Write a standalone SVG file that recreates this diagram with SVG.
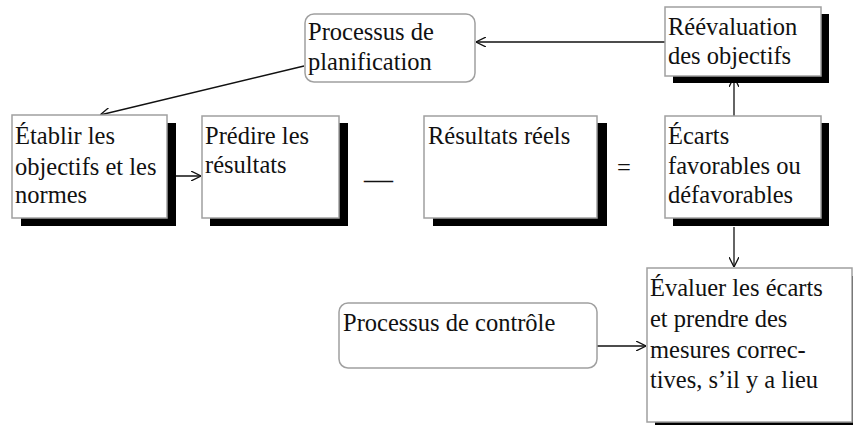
<svg xmlns="http://www.w3.org/2000/svg" width="853" height="425" viewBox="0 0 853 425">
<defs>
<style>
.box{fill:#fff;stroke:#a0a0a0;stroke-width:1.5}
.sh{fill:#000}
.c{stroke:#111;stroke-width:1.3;fill:none}
</style>
<marker id="ah" viewBox="0 0 10 10" refX="10" refY="5" markerWidth="10" markerHeight="10" markerUnits="userSpaceOnUse" orient="auto">
<path d="M0,0 L10,5 L0,10" fill="none" stroke="#111" stroke-width="1.3"/>
</marker>
</defs>
<rect width="853" height="425" fill="#fff"/>
<g id="connectors">
<line class="c" x1="665" y1="42" x2="476" y2="42" marker-end="url(#ah)"/>
<line class="c" x1="304" y1="66" x2="100" y2="115" marker-end="url(#ah)"/>
<line class="c" x1="167" y1="176" x2="201" y2="176" marker-end="url(#ah)"/>
<line class="c" x1="734" y1="116" x2="734" y2="77" marker-end="url(#ah)"/>
<line class="c" x1="734" y1="227" x2="734" y2="267" marker-end="url(#ah)"/>
<line class="c" x1="597" y1="346" x2="646" y2="346" marker-end="url(#ah)"/>
</g>
<g font-family="Liberation Serif, Times New Roman, DejaVu Serif, serif" font-size="24.5" fill="#111">
<g id="planification">
<rect class="box" x="305" y="14" width="170" height="68" rx="9"/>
<text x="308" y="40">Processus de</text>
<text x="308" y="70">planification</text>
</g>
<g id="reevaluation">
<rect class="sh" x="673" y="14" width="156" height="69"/>
<rect class="box" x="665" y="7" width="156" height="69"/>
<text x="668" y="35">Réévaluation</text>
<text x="668" y="64">des objectifs</text>
</g>
<g id="etablir">
<rect class="sh" x="21" y="123" width="155" height="103"/>
<rect class="box" x="12" y="115" width="155" height="103"/>
<text x="15" y="144">Établir les</text>
<text x="15" y="175">objectifs et les</text>
<text x="15" y="203">normes</text>
</g>
<g id="predire">
<rect class="sh" x="210" y="123" width="138" height="103"/>
<rect class="box" x="202" y="116" width="137" height="102"/>
<text x="205" y="144">Prédire les</text>
<text x="205" y="173">résultats</text>
</g>
<g id="minus">
<text x="364" y="189" font-size="29">—</text>
</g>
<g id="reels">
<rect class="sh" x="433" y="123" width="174" height="103"/>
<rect class="box" x="424" y="116" width="173" height="102"/>
<text x="428" y="144">Résultats réels</text>
</g>
<g id="equals">
<text x="617" y="176">=</text>
</g>
<g id="ecarts">
<rect class="sh" x="673" y="123" width="156" height="103"/>
<rect class="box" x="665" y="116" width="156" height="102"/>
<text x="668" y="144">Écarts</text>
<text x="668" y="174">favorables ou</text>
<text x="668" y="203">défavorables</text>
</g>
<g id="controle">
<rect class="box" x="339" y="303" width="258" height="65" rx="9"/>
<text x="343" y="331">Processus de contrôle</text>
</g>
<g id="evaluer">
<rect class="sh" x="655" y="276" width="205" height="154"/>
<rect class="box" x="647" y="268" width="205" height="154"/>
<text x="650" y="296">Évaluer les écarts</text>
<text x="650" y="327">et prendre des</text>
<text x="650" y="358">mesures correc-</text>
<text x="650" y="388">tives, s’il y a lieu</text>
</g>
</g>
</svg>
